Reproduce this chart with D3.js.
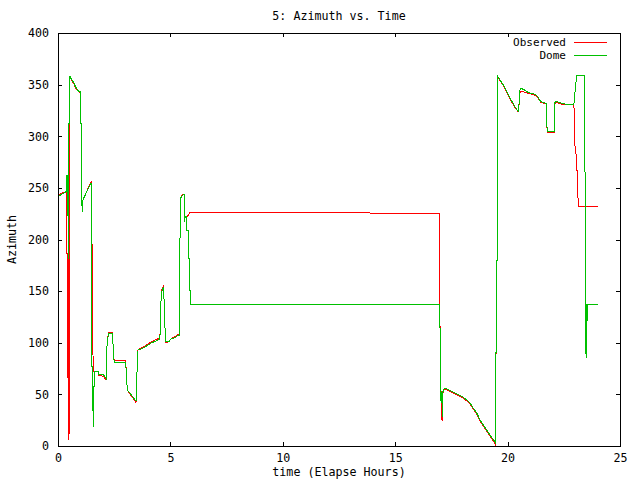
<!DOCTYPE html>
<html>
<head>
<meta charset="utf-8">
<script src="https://cdn.jsdelivr.net/npm/d3@7"></script>
<style>
	body { margin: 0; background: #fff; }
	text { font-family: "DejaVu Sans Mono", monospace; font-size: 11.67px; fill: #000; }
	.legend-labels { font-size: 11px; }
</style>
</head>
<body>
<svg id="viz"></svg>
<script>
// Observed (red) azimuth
const obsTime = [0.00,0.10,0.20,0.30,0.39,0.40,0.43,0.44,0.46,0.48,0.49,0.51,0.52,0.60,0.70,0.78,0.85,0.92,0.98,0.99,1.03,1.04,1.06,1.07,1.09,1.10,1.28,1.40,1.47,1.48,1.50,1.52,1.53,1.55,1.56,1.60,1.79,1.80,2.02,2.12,2.14,2.16,2.18,2.21,2.23,2.42,2.44,2.47,2.50,3.01,3.03,3.06,3.09,3.28,3.47,3.49,3.53,3.56,3.70,3.87,4.17,4.46,4.53,4.55,4.58,4.63,4.69,4.72,4.76,4.80,4.95,5.00,5.20,5.32,5.39,5.40,5.43,5.46,5.50,5.57,5.61,5.62,5.66,5.72,5.78,5.84,5.88,16.96,16.97,16.99,17.00,17.02,17.04,17.06,17.10,17.13,17.26,17.50,17.74,18.00,18.18,18.35,18.48,18.65,18.77,18.90,19.07,19.25,19.47,19.50,19.53,19.55,19.81,20.11,20.33,20.48,20.50,20.52,20.57,20.70,20.92,21.22,21.37,21.47,21.71,21.73,21.78,22.08,22.11,22.33,22.45,22.95,22.97,22.99,23.04,23.05,23.09,23.10,23.13,23.14,24.01];
const obsAz = [242.5,244,245,246,247.3,186.6,186.6,65.5,190,65,5.8,180,358,354,351,347,344.5,343,342.5,312,312,256,256,227,227,238,246.5,253,255.4,209,194.7,194.7,118.8,118.8,76.8,72.2,72.2,68.5,67.5,64.5,64.5,76.2,97.2,97.2,109.5,109.5,102,88.8,82.5,82.5,74.6,61.7,54.2,48,42,56.5,80.1,93,95,97,101,104,104,115.5,139.8,152.5,155,140.8,114.6,100,101.5,103.3,106,107.8,107.8,139.8,206,240,242,244,244,217.3,222,221,223,225,226.6,225.3,177,125,100,80,50,27,24.5,54,54.9,52,49.8,46.5,43.8,40,35.5,30,24.5,20,14.5,8.5,1,180,180,358,349,336,327.8,323.5,323.5,340.5,343,343,341.5,339.8,336.5,332.8,331.2,312,304,304,332.5,332,330.3,330.3,317,291,290,267,267,243,243,231.5,231.5];

// Dome (green) azimuth
const domeTime = [0.00,0.10,0.20,0.30,0.39,0.40,0.44,0.45,0.47,0.48,0.51,0.53,0.60,0.70,0.78,0.85,0.92,0.98,0.99,1.03,1.04,1.06,1.07,1.09,1.10,1.28,1.40,1.47,1.48,1.50,1.51,1.55,1.56,1.58,1.60,1.62,1.64,1.79,1.80,2.02,2.06,2.14,2.16,2.18,2.21,2.23,2.42,2.44,2.47,2.50,3.01,3.03,3.06,3.09,3.28,3.47,3.49,3.53,3.56,3.70,3.87,4.17,4.46,4.53,4.55,4.58,4.63,4.69,4.72,4.76,4.80,4.95,5.00,5.20,5.32,5.39,5.40,5.43,5.46,5.50,5.57,5.61,5.62,5.66,5.70,5.72,5.80,5.81,5.85,5.86,5.88,5.89,16.96,16.99,17.01,17.04,17.07,17.10,17.13,17.26,17.50,17.74,18.00,18.18,18.35,18.48,18.65,18.77,18.90,19.07,19.25,19.47,19.50,19.53,19.55,19.81,20.11,20.33,20.48,20.50,20.52,20.57,20.70,20.92,21.22,21.37,21.47,21.71,21.73,21.78,22.08,22.11,22.33,22.45,22.95,22.98,23.04,23.07,23.43,23.44,23.46,23.49,23.50,23.51,23.52,23.53,23.55,24.01];
const domeAz = [241.5,243,244.5,245.5,247,262,262,182,182,312,312,358,355,352,348,345.5,343.5,343,312.5,312.5,256,256,227,227,238,246.3,252,255,194.7,194.7,76.8,76.8,18.7,18.7,57.5,57.5,72,72,69.7,69.7,67.5,65.5,76.2,97.2,97.2,108.5,109,102,88.8,81,81,74.6,61.7,54.2,49,43.6,56.5,80.1,93,94,96,100,102.7,103,115.5,139.8,151,154,140.8,114.6,101,101,103.3,105,106.8,106.8,139.8,206,240,242,243.5,243.5,217.3,222,222,209,209,181.8,181.8,151,151,136.6,136.6,123.7,72,41.3,52,28.4,55,55.9,53,50.4,47.5,44.6,41,36.5,31,25.5,21,15.5,9.5,3,180,180,358.4,349.6,336.7,328.6,323.8,323.8,341.6,346.4,345.5,342.3,340.6,337.4,333.5,331.9,312.5,305,305,333.5,332.9,331.3,331,338.4,351.3,359,359,290,152.7,85,138,112,138,118,137.2,137.2];

const xTicks = [0, 5, 10, 15, 20, 25];
const yTicks = [0, 50, 100, 150, 200, 250, 300, 350, 400];

const width = 640;
const height = 480;
const margin = { top: 33, right: 20, bottom: 34, left: 58 };
const plotWidth = width - margin.left - margin.right;
const plotHeight = height - margin.top - margin.bottom;
const tickLen = 4;

const svg = d3.select("svg#viz")
	.attr("width", width)
	.attr("height", height);

const plot = svg.append("g")
	.attr("transform", translate(margin.left, margin.top));

const x = d3.scaleLinear().domain([0, 25]).range([0, plotWidth]);
const y = d3.scaleLinear().domain([0, 400]).range([plotHeight, 0]);

// gnuplot style: ticks point inward on all four sides
function drawAxes() {
	const axes = [
		{ axis: d3.axisBottom(x).tickValues(xTicks).tickSizeInner(-tickLen).tickPadding(8), at: [0, plotHeight] },
		{ axis: d3.axisTop(x).tickValues(xTicks).tickSizeInner(-tickLen).tickFormat(""), at: [0, 0] },
		{ axis: d3.axisLeft(y).tickValues(yTicks).tickSizeInner(-tickLen).tickPadding(9), at: [0, 0] },
		{ axis: d3.axisRight(y).tickValues(yTicks).tickSizeInner(-tickLen).tickFormat(""), at: [plotWidth, 0] }
	];
	for (let a of axes) {
		let g = plot.append("g")
			.attr("transform", translate(a.at[0], a.at[1]))
			.call(a.axis.tickSizeOuter(0));
		g.select(".domain").remove();
		g.selectAll("line").attr("stroke", "#000").attr("shape-rendering", "crispEdges");
		g.selectAll("text").attr("font-family", null).attr("font-size", null).attr("fill", null);
	}

	plot.append("rect")
		.attr("x", 0.5).attr("y", 0.5)
		.attr("width", plotWidth).attr("height", plotHeight - 0.5)
		.attr("fill", "none")
		.attr("stroke", "#000")
		.attr("shape-rendering", "crispEdges");
}

function drawLines() {
	const line = d3.line()
		.x(d => x(d[0]))
		.y(d => y(d[1]));

	const obs = d3.zip(obsTime, obsAz);
	const dome = d3.zip(domeTime, domeAz);

	plot.append("path")
		.datum(obs)
		.attr("fill", "none")
		.attr("stroke", "#ff0000")
		.attr("stroke-width", 1)
		.attr("shape-rendering", "crispEdges")
		.attr("d", line);

	plot.append("path")
		.datum(dome)
		.attr("fill", "none")
		.attr("stroke", "#00c000")
		.attr("stroke-width", 1)
		.attr("shape-rendering", "crispEdges")
		.attr("d", line);
}

function drawText() {
	svg.append("text")
		.attr("x", margin.left + plotWidth / 2)
		.attr("y", 20)
		.attr("text-anchor", "middle")
		.text("5: Azimuth vs. Time");

	svg.append("text")
		.attr("x", margin.left + plotWidth / 2)
		.attr("y", 476)
		.attr("text-anchor", "middle")
		.text("time (Elapse Hours)");

	svg.append("text")
		.attr("transform", translate(16, margin.top + plotHeight / 2) + " rotate(-90)")
		.attr("text-anchor", "middle")
		.text("Azimuth");

	const legend = [
		{ name: "Observed", color: "#ff0000" },
		{ name: "Dome", color: "#00c000" }
	];
	let lg = svg.append("g").attr("transform", translate(566, 41.5));
	legend.forEach((d, i) => {
		lg.append("text")
			.attr("class", "legend-labels")
			.attr("x", 0)
			.attr("y", i * 13 + 4)
			.attr("text-anchor", "end")
			.text(d.name);
		lg.append("line")
			.attr("x1", 8).attr("x2", 41)
			.attr("y1", i * 13 + 0.5).attr("y2", i * 13 + 0.5)
			.attr("stroke", d.color)
			.attr("shape-rendering", "crispEdges");
	});
}

drawLines();
drawAxes();
drawText();

function translate(x, y) {
	return 'translate(' + x + ',' + y + ')';
}
</script>
</body>
</html>
